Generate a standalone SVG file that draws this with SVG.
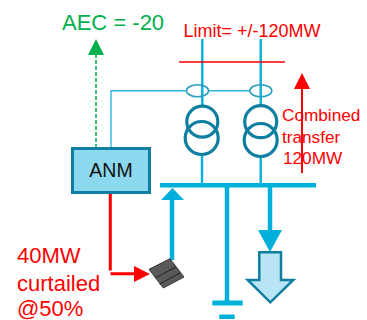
<svg xmlns="http://www.w3.org/2000/svg" width="367" height="320" viewBox="0 0 367 320">
<style>
text{font-family:"Liberation Sans",Arial,sans-serif}
.red{fill:#FF0000}
.bus{stroke:#00B0DA;fill:none}
.tx{fill:none;stroke:#0E7FA0;stroke-width:3.200}
.ell{fill:none;stroke:#2A9FC2;stroke-width:1.600}
.gen{fill:#595959;stroke:#3A3A3A;stroke-width:1}
</style>
<rect width="367" height="320" fill="#fff"/>
<g id="connectors">
<path class="bus" stroke-width="2.400" d="M202.300 39V106M260.700 39V106"/>
<path class="bus" stroke-width="2.400" d="M202 155V185M260.700 157V185"/>
<path d="M111 148V90.700H187M208 90.700H250" fill="none" stroke="#2EB4DC" stroke-width="1.400"/>
<path d="M96 148V54" fill="none" stroke="#00B050" stroke-width="1.500" stroke-dasharray="4 2"/>
<polygon points="96,39 104,55 88,55" fill="#00B050"/>
<path d="M179 62H285" stroke="#FF0000" stroke-width="1.400" fill="none"/>
<path d="M302 173V85" stroke="#FF0000" stroke-width="2" fill="none"/>
<polygon points="302,73 310,89 294,89" fill="#FF0000"/>
<path d="M110.300 190V270.500M110.500 273.700H136" stroke="#FF0000" stroke-width="3" fill="none"/>
<polygon points="150,274 134,266 134,282" fill="#FF0000"/>
<path class="bus" stroke-width="4.500" d="M160 185.300H316"/>
<path class="bus" stroke-width="4.500" d="M172 260V198"/>
<polygon points="172.500,188 184,200 161,200" fill="#00B0DA"/>
<path class="bus" stroke-width="4.500" d="M227 185V302"/>
<path class="bus" stroke-width="4.500" d="M270 185V232"/>
<polygon points="270,252 282,230 258,230" fill="#00B0DA"/>
</g>
<g id="anm">
<rect x="72.500" y="148.500" width="77" height="44" fill="#8CD8EF" stroke="#0E7FA0" stroke-width="3"/>
<text x="111" y="177" font-size="19.500" text-anchor="middle" fill="#111">ANM</text>
</g>
<g id="transformer-1">
<ellipse class="ell" cx="197.500" cy="90.700" rx="11" ry="6"/>
<circle class="tx" cx="202.300" cy="121.700" r="15.500"/>
<circle class="tx" cx="201.700" cy="138" r="16.500"/>
</g>
<g id="transformer-2">
<ellipse class="ell" cx="260.800" cy="90.700" rx="11" ry="6"/>
<circle class="tx" cx="260.700" cy="121.700" r="16"/>
<circle class="tx" cx="260.700" cy="140" r="16.500"/>
</g>
<g id="generator">
<polygon class="gen" points="149,269.300 170,258.700 184,277 163.300,288"/>
<path d="M155 278L176 267M159.500 284L180 273" stroke="#222" stroke-width="1" fill="none"/>
</g>
<g id="ground">
<rect x="212.300" y="300.500" width="30.400" height="5" fill="#00B0DA"/>
<rect x="219.300" y="314.500" width="15.400" height="4.500" fill="#00B0DA"/>
</g>
<g id="load">
<polygon points="259.300,252.300 281,252.300 281,280 293.300,280 270.300,302.300 247.700,280 259.300,280" fill="#B8E4F4" stroke="#0E7FA0" stroke-width="2.500"/>
</g>
<g id="labels">
<text x="62" y="29.500" font-size="22" fill="#00B050">AEC = -20</text>
<text x="183.500" y="36.700" font-size="18" class="red">Limit= +/-120MW</text>
<text x="282" y="121" font-size="17.200" class="red">Combined</text>
<text x="282" y="143" font-size="17.200" class="red">transfer</text>
<text x="283" y="164" font-size="17.200" class="red">120MW</text>
<text x="17" y="263" font-size="22" class="red">40MW</text>
<text x="17" y="290.700" font-size="22" class="red">curtailed</text>
<text x="17" y="315.500" font-size="22" class="red">@50%</text>
</g>
</svg>
